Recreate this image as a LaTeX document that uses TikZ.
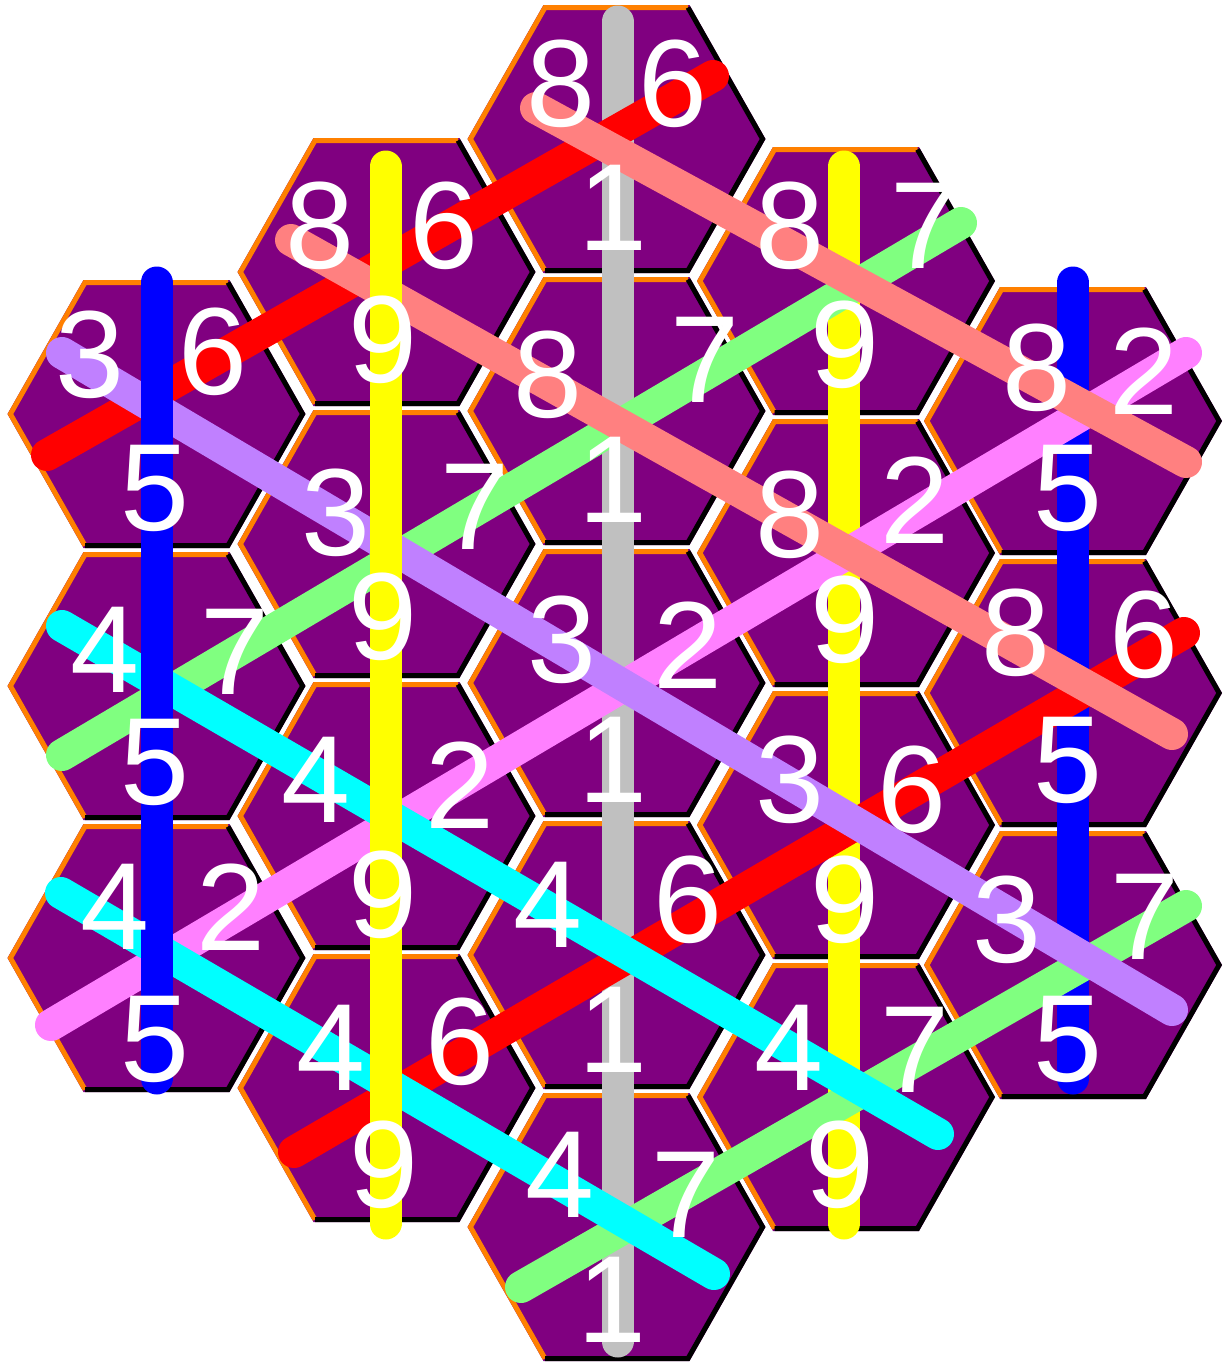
\documentclass[tikz,border=0pt]{standalone}
\usepackage{fontspec}
\newfontfamily\digitfamily{Liberation Sans}
\newcommand\digitfont{\digitfamily\fontsize{124}{124}\selectfont}
\definecolor{hexpurple}{RGB}{128,0,128}
\definecolor{edgeorange}{RGB}{255,128,0}
\definecolor{lgrey}{RGB}{192,192,192}
\definecolor{lblue}{RGB}{0,0,255}
\definecolor{lyellow}{RGB}{255,255,0}
\definecolor{lred}{RGB}{255,0,0}
\definecolor{lsalmon}{RGB}{255,128,128}
\definecolor{llavender}{RGB}{192,128,255}
\definecolor{lcyan}{RGB}{0,255,255}
\definecolor{lgreen}{RGB}{128,255,128}
\definecolor{lpink}{RGB}{255,128,255}
\begin{document}
\begin{tikzpicture}[x=1pt,y=-1pt,
  hexbody/.style={fill=hexpurple},
  litedge/.style={draw=edgeorange,line width=5pt,line join=miter},
  shadeedge/.style={draw=black,line width=5pt,line join=miter},
  band/.style={line width=32pt,line cap=round},
  digit/.style={text=white,font=\digitfont,inner sep=0pt,outer sep=0pt}]
\useasboundingbox[fill=white] (0,0) rectangle (1230,1363);
% hexagons
\foreach \cx/\cy in {156.5/414,156.5/686,156.5/958,
  386.5/272,386.5/544,386.5/816,386.5/1088,
  616.5/139,616.5/411,616.5/683,616.5/955,616.5/1227,
  846/281,846/553,846/825,846/1097,
  1073/421,1073/693,1073/965}{
  \fill[hexbody] (\cx-149,\cy) -- (\cx-73,\cy-134) -- (\cx+73,\cy-134) -- (\cx+149,\cy) -- (\cx+73,\cy+134) -- (\cx-73,\cy+134) -- cycle;
  \draw[litedge] (\cx-71.5,\cy+131.5) -- (\cx-146.1,\cy) -- (\cx-71.5,\cy-131.5) -- (\cx+71.5,\cy-131.5);
  \draw[shadeedge] (\cx+71.5,\cy-131.5) -- (\cx+146.1,\cy) -- (\cx+71.5,\cy+131.5) -- (\cx-71.5,\cy+131.5);
}
% line end points
\coordinate (v2a) at (617.5,21.5);  \coordinate (v2b) at (617.5,1341.5);
\coordinate (v3a) at (844,166.5);   \coordinate (v3b) at (844,1223.5);
\coordinate (v4a) at (1073,282.5);  \coordinate (v4b) at (1073,1078.5);
\coordinate (v0a) at (156.5,282.5); \coordinate (v0b) at (156.5,1078.5);
\coordinate (v1a) at (385.5,166.5); \coordinate (v1b) at (385.5,1223.5);
\coordinate (redAa) at (47,455);    \coordinate (redAb) at (713,76);
\coordinate (redBa) at (294,1152);  \coordinate (redBb) at (1184,633);
\coordinate (pinka) at (51,1025);   \coordinate (pinkb) at (1186,353);
\coordinate (grnAa) at (62,755);    \coordinate (grnAb) at (961,223);
\coordinate (grnBa) at (521,1287);  \coordinate (grnBb) at (1186,906);
\coordinate (lava) at (62,353);     \coordinate (lavb) at (1172,1010);
\coordinate (cyAa) at (62,626);     \coordinate (cyAb) at (938,1134);
\coordinate (cyBa) at (61,893);     \coordinate (cyBb) at (714,1274);
\coordinate (salAa) at (536,108);   \coordinate (salAb) at (1186,462);
\coordinate (salBa) at (291,240);   \coordinate (salBb) at (1172,734);
% vertical lines (under the diagonals)
\draw[band,lgrey] (v2a) -- (v2b);
\draw[band,lyellow] (v3a) -- (v3b);
\draw[band,lblue] (v4a) -- (v4b);
% rising diagonals 2 / 6 / 7
\draw[band,lred] (redAa) -- (redAb);
\draw[band,lred] (redBa) -- (redBb);
\draw[band,lpink] (pinka) -- (pinkb);
\draw[band,lgreen] (grnAa) -- (grnAb);
\draw[band,lgreen] (grnBa) -- (grnBb);
% falling diagonals 3 / 4 / 8
\draw[band,llavender] (lava) -- (lavb);
\draw[band,lcyan] (cyAa) -- (cyAb);
\draw[band,lcyan] (cyBa) -- (cyBb);
\draw[band,lsalmon] (salAa) -- (salAb);
\draw[band,lsalmon] (salBa) -- (salBb);
% vertical lines (over the diagonals)
\draw[band,lblue] (v0a) -- (v0b);
\draw[band,lyellow] (v1a) -- (v1b);
% digits
\foreach \x/\y/\t [count=\i] in {
  90/355/3, 213/352/6, 155/488/5,
  105/650/4, 235/652/7, 155/762/5,
  115/907/4, 231/907/2, 155/1039/5,
  320/226/8, 444/226/6, 383/340/9,
  336/513/3, 475/507/7, 383/617/9,
  316/780/4, 460/785/2, 383/895/9,
  331/1048/4, 460/1042/6, 384/1165/9,
  561/84/8, 673/84/6, 613/208/1,
  548/375/8, 705/360/7, 613/480/1,
  562/640/3, 688/645/2, 613/760/1,
  548/905/4, 688/900/6, 613/1030/1,
  560/1175/4, 686/1195/7, 612/1300/1,
  790/226/8, 925/226/7, 845/345/9,
  790/515/8, 915/500/2, 845/620/9,
  790/780/3, 912/790/6, 845/900/9,
  789/1048/4, 915/1050/7, 840/1165/9,
  1037/368/8, 1144/371/2, 1068/488/5,
  1016/633/8, 1144/635/6, 1068/760/5,
  1007/920/3, 1145/917/7, 1068/1039/5}{
  \node[digit] (dg\i) at (\x,\y) {\t};
}
\end{tikzpicture}
\end{document}
